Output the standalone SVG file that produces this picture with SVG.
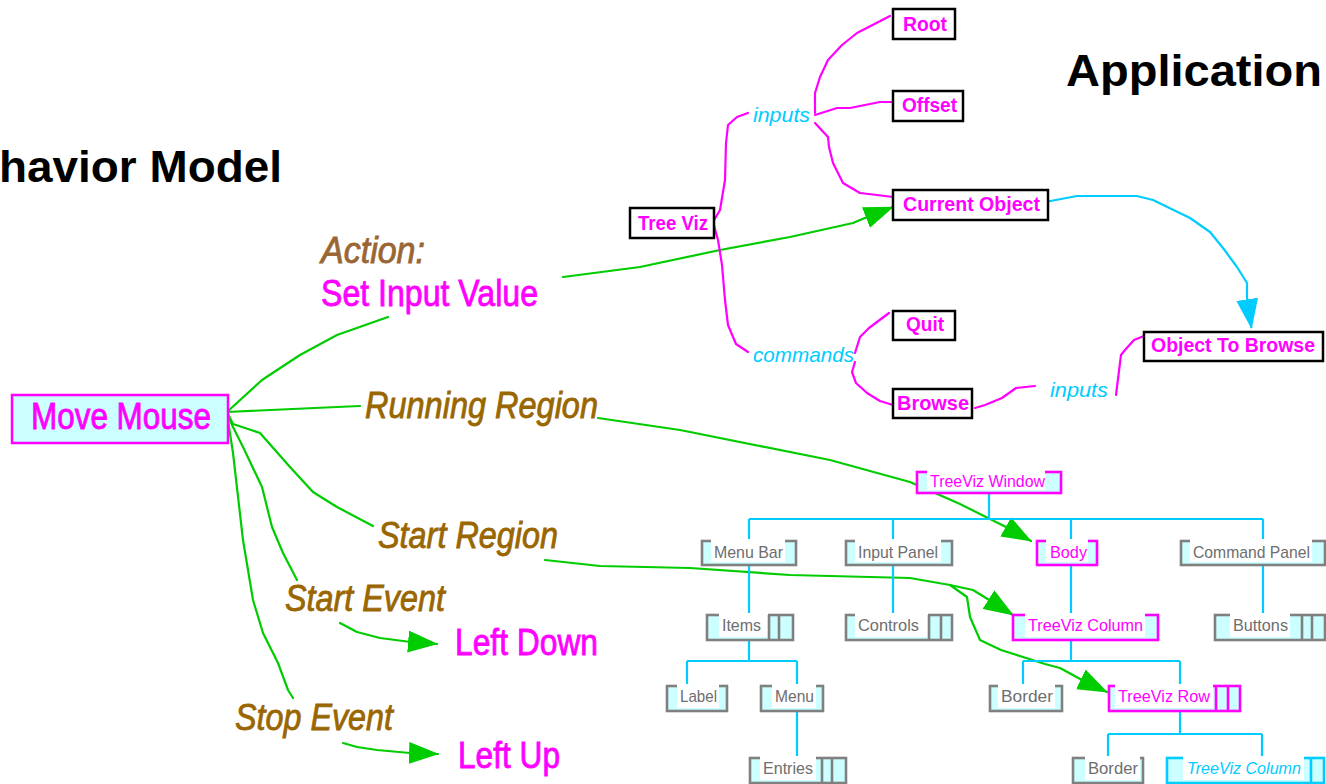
<svg xmlns="http://www.w3.org/2000/svg" width="1326" height="784" viewBox="0 0 1326 784">
<defs>
<style>
text{font-family:"Liberation Sans",Arial,Helvetica,sans-serif}
.title{font-size:45px;font-weight:bold;fill:#000}
.big{font-size:36px;stroke-width:0.8px}
.it{font-style:italic}
.brown{fill:#996600;stroke:#996600}
.brown2{fill:#996633;stroke:#996633}
.mag{fill:#ff00ff}
.big.mag{stroke:#ff00ff}
.bx{fill:#fff;stroke:#000;stroke-width:2.5}
.bxt{font-size:21px;font-weight:bold;fill:#ff00ff}
.kw{font-size:21px;font-style:italic;fill:#00ccff}
.gr{fill:none;stroke:#00cc00;stroke-width:2.2;stroke-linejoin:round;stroke-linecap:round}
.mg{fill:none;stroke:#ff00ff;stroke-width:2.2;stroke-linejoin:round;stroke-linecap:round}
.cy{fill:none;stroke:#00ccff;stroke-width:2.2;stroke-linejoin:round}
.tn{fill:#ccffff;stroke-width:2.6}
.gs{stroke:#808080}
.ms{stroke:#ff00ff}
.cs{stroke:#00ccff}
.lb{fill:#fff}
.tt{font-size:17px}
.gt{fill:#6e6e6e}
.ct{fill:#00ccff}
.dv{stroke-width:2.6}
</style>
<marker id="gHead" markerUnits="userSpaceOnUse" markerWidth="30" markerHeight="22" refX="29" refY="11" orient="auto" viewBox="0 0 30 22">
<path d="M0,0 L30,11 L0,22 z" fill="#00cc00"/>
</marker>
<marker id="cHead" markerUnits="userSpaceOnUse" markerWidth="30" markerHeight="22" refX="29" refY="11" orient="auto" viewBox="0 0 30 22">
<path d="M0,0 L30,11 L0,22 z" fill="#00ccff"/>
</marker>
</defs>
<rect width="1326" height="784" fill="#fff"/>

<!-- headings -->
<text class="title" x="-1" y="182" textLength="283" lengthAdjust="spacingAndGlyphs">havior Model</text>
<text class="title" x="1066" y="86" textLength="256" lengthAdjust="spacingAndGlyphs">Application</text>

<!-- connectors -->
<g id="connectors">
  <!-- behaviour model links (green) -->
  <polyline class="gr" points="227,412 262,380 300,355 337,335 388,317"/>
  <polyline class="gr" points="563,277 640,267 720,250 790,237 853,223 866,217.5 893,207" marker-end="url(#gHead)"/>
  <polyline class="gr" points="227,412 337,407 360,406"/>
  <polyline class="gr" points="598,418 680,430 830,460 910,482 960,504 1006,527 1031,541" marker-end="url(#gHead)"/>
  <polyline class="gr" points="227,412 233,424 260,433 290,467 313,492 337,507 373,526"/>
  <polyline class="gr" points="545,560 600,566 690,568 790,575 910,578 950,585 973,590 990,600.5 1013,615" marker-end="url(#gHead)"/>
  <polyline class="gr" points="950,585 967,597 970,617 980,640 1001,650 1023,657 1045,664 1060,668 1082,680 1107,692" marker-end="url(#gHead)"/>
  <polyline class="gr" points="227,414 233,427 243,447 262,487 272,527 283,553 297,580"/>
  <polyline class="gr" points="227,414 233,453 243,540 253,600 263,633 278,663 288,690 293,698"/>
  <polyline class="gr" points="340,623 357,632 380,638 407,641.5 437,644" marker-end="url(#gHead)"/>
  <polyline class="gr" points="343,743 357,747 377,750 410,753 438,754" marker-end="url(#gHead)"/>

  <!-- application object links (magenta) -->
  <polyline class="mg" points="713,222 720,210 725,180 726,143 728,125 737,117 748,113"/>
  <polyline class="mg" points="815,113 815,93 820,77 828,60 842,45 857,33 890,16"/>
  <polyline class="mg" points="815,115 837,108 850,108 860,106 880,102 893,102"/>
  <polyline class="mg" points="815,123 828,137 829,147 833,163 843,183 860,193 877,195 893,197"/>
  <polyline class="mg" points="713,222 718,240 722,265 725,300 728,325 736,344 748,352"/>
  <polyline class="mg" points="855,353 860,337 869,328 889,313"/>
  <polyline class="mg" points="855,362 852,372 856,383 867,393 880,401 893,405"/>
  <polyline class="mg" points="975,408 985,405 1002,398 1016,388 1035,386"/>
  <polyline class="mg" points="1116,395 1121,355 1125,350 1134,340 1144,336"/>
  <polyline class="cy" points="1045,202 1077,196 1137,196 1153,200 1190,218 1210,232 1223,248 1237,267 1247,283 1247,298 1251.5,328" marker-end="url(#cHead)"/>

  <!-- widget hierarchy (cyan) -->
  <path class="cy" d="M989,493 V519 M749,519 H1263 M749,519 V541 M893,519 V541 M1071,519 V541 M1263,519 V541
    M749,565 V615 M893,565 V615 M1071,565 V615 M1263,565 V615
    M749,640 V661 M687,661 H797 M687,661 V686 M797,661 V686
    M1071,640 V661 M1023,661 H1180 M1023,661 V686 M1180,661 V686
    M797,711 V758
    M1180,711 V734 M1108,734 H1262 M1108,734 V758 M1262,734 V758"/>
</g>

<!-- behaviour model -->
<g id="move-mouse">
  <rect x="12" y="395" width="216" height="48" fill="#ccffff" stroke="#ff00ff" stroke-width="2.5"/>
  <text class="big mag" x="31" y="429" textLength="180" lengthAdjust="spacingAndGlyphs">Move Mouse</text>
</g>
<g id="action">
  <text class="big it brown2" x="321" y="263" textLength="104" lengthAdjust="spacingAndGlyphs">Action:</text>
  <text class="big mag" x="321" y="306" textLength="217" lengthAdjust="spacingAndGlyphs">Set Input Value</text>
</g>
<g id="running-region"><text class="big it brown" x="365" y="418" textLength="233" lengthAdjust="spacingAndGlyphs">Running Region</text></g>
<g id="start-region"><text class="big it brown" x="378" y="548" textLength="180" lengthAdjust="spacingAndGlyphs">Start Region</text></g>
<g id="start-event"><text class="big it brown" x="285" y="611" textLength="160" lengthAdjust="spacingAndGlyphs">Start Event</text></g>
<g id="left-down"><text class="big mag" x="455" y="655" textLength="143" lengthAdjust="spacingAndGlyphs">Left Down</text></g>
<g id="stop-event"><text class="big it brown" x="235" y="730" textLength="158" lengthAdjust="spacingAndGlyphs">Stop Event</text></g>
<g id="left-up"><text class="big mag" x="458" y="768" textLength="102" lengthAdjust="spacingAndGlyphs">Left Up</text></g>

<!-- application objects -->
<g id="tree-viz"><rect class="bx" x="630" y="208" width="84" height="30"/><text class="bxt" x="638" y="230" textLength="70" lengthAdjust="spacingAndGlyphs">Tree Viz</text></g>
<g id="inputs-1"><text class="kw" x="753" y="122" textLength="57" lengthAdjust="spacingAndGlyphs">inputs</text></g>
<g id="root"><rect class="bx" x="893" y="9" width="62" height="30"/><text class="bxt" x="903" y="31" textLength="44" lengthAdjust="spacingAndGlyphs">Root</text></g>
<g id="offset"><rect class="bx" x="893" y="91" width="70" height="30"/><text class="bxt" x="902" y="112" textLength="55" lengthAdjust="spacingAndGlyphs">Offset</text></g>
<g id="current-object"><rect class="bx" x="893" y="190" width="155" height="30"/><text class="bxt" x="903" y="211" textLength="137" lengthAdjust="spacingAndGlyphs">Current Object</text></g>
<g id="commands"><text class="kw" x="753" y="362" textLength="101" lengthAdjust="spacingAndGlyphs">commands</text></g>
<g id="quit"><rect class="bx" x="893" y="311" width="62" height="29"/><text class="bxt" x="906" y="331" textLength="38" lengthAdjust="spacingAndGlyphs">Quit</text></g>
<g id="browse"><rect class="bx" x="893" y="389" width="79" height="29"/><text class="bxt" x="897" y="410" textLength="72" lengthAdjust="spacingAndGlyphs">Browse</text></g>
<g id="inputs-2"><text class="kw" x="1050" y="397" textLength="58" lengthAdjust="spacingAndGlyphs">inputs</text></g>
<g id="object-to-browse"><rect class="bx" x="1144" y="332" width="179" height="29"/><text class="bxt" x="1151" y="352" textLength="164" lengthAdjust="spacingAndGlyphs">Object To Browse</text></g>

<!-- widget hierarchy -->
<g id="treeviz-window">
  <rect class="tn ms" x="917" y="472" width="144" height="21"/>
  <rect class="lb" x="927" y="470" width="118" height="20"/>
  <text class="mag" font-size="16" x="930" y="487" textLength="115" lengthAdjust="spacingAndGlyphs">TreeViz Window</text>
</g>
<g id="menu-bar">
  <rect class="tn gs" x="702" y="541" width="94" height="24"/>
  <rect class="lb" x="711" y="539" width="74" height="23"/>
  <text class="tt gt" x="714" y="558" textLength="69" lengthAdjust="spacingAndGlyphs">Menu Bar</text>
</g>
<g id="input-panel">
  <rect class="tn gs" x="846" y="541" width="106" height="24"/>
  <rect class="lb" x="855" y="539" width="86" height="23"/>
  <text class="tt gt" x="858" y="558" textLength="80" lengthAdjust="spacingAndGlyphs">Input Panel</text>
</g>
<g id="body">
  <rect class="tn ms" x="1037" y="541" width="60" height="24"/>
  <rect class="lb" x="1046" y="539" width="42" height="23"/>
  <text class="tt mag" x="1050" y="558" textLength="37" lengthAdjust="spacingAndGlyphs">Body</text>
</g>
<g id="command-panel">
  <rect class="tn gs" x="1181" y="541" width="144" height="24"/>
  <rect class="lb" x="1190" y="539" width="122" height="23"/>
  <text class="tt gt" x="1193" y="558" textLength="117" lengthAdjust="spacingAndGlyphs">Command Panel</text>
</g>
<g id="items">
  <rect class="tn gs" x="707" y="615" width="86" height="25"/>
  <rect class="lb" x="719" y="613" width="49" height="24"/>
  <path class="gs dv" d="M769,615 V640 M779,615 V640"/>
  <text class="tt gt" x="722" y="631" textLength="39" lengthAdjust="spacingAndGlyphs">Items</text>
</g>
<g id="controls">
  <rect class="tn gs" x="846" y="615" width="106" height="25"/>
  <rect class="lb" x="855" y="613" width="73" height="24"/>
  <path class="gs dv" d="M929,615 V640 M941,615 V640"/>
  <text class="tt gt" x="858" y="631" textLength="61" lengthAdjust="spacingAndGlyphs">Controls</text>
</g>
<g id="treeviz-column">
  <rect class="tn ms" x="1013" y="615" width="145" height="25"/>
  <rect class="lb" x="1025" y="613" width="120" height="24"/>
  <text class="tt mag" x="1028" y="631" textLength="115" lengthAdjust="spacingAndGlyphs">TreeViz Column</text>
</g>
<g id="buttons">
  <rect class="tn gs" x="1215" y="615" width="110" height="25"/>
  <rect class="lb" x="1230" y="613" width="60" height="24"/>
  <path class="gs dv" d="M1302,615 V640 M1312,615 V640"/>
  <text class="tt gt" x="1233" y="631" textLength="55" lengthAdjust="spacingAndGlyphs">Buttons</text>
</g>
<g id="label">
  <rect class="tn gs" x="667" y="686" width="60" height="25"/>
  <rect class="lb" x="677" y="684" width="42" height="24"/>
  <text class="tt gt" x="680" y="702" textLength="37" lengthAdjust="spacingAndGlyphs">Label</text>
</g>
<g id="menu">
  <rect class="tn gs" x="761" y="686" width="62" height="25"/>
  <rect class="lb" x="772" y="684" width="44" height="24"/>
  <text class="tt gt" x="775" y="702" textLength="39" lengthAdjust="spacingAndGlyphs">Menu</text>
</g>
<g id="border-1">
  <rect class="tn gs" x="990" y="686" width="72" height="25"/>
  <rect class="lb" x="998" y="684" width="57" height="24"/>
  <text class="tt gt" x="1001" y="702" textLength="52" lengthAdjust="spacingAndGlyphs">Border</text>
</g>
<g id="treeviz-row">
  <rect class="tn ms" x="1109" y="686" width="131" height="25"/>
  <rect class="lb" x="1115" y="684" width="98" height="24"/>
  <path class="ms dv" d="M1216,686 V711 M1228,686 V711"/>
  <text class="tt mag" x="1118" y="702" textLength="92" lengthAdjust="spacingAndGlyphs">TreeViz Row</text>
</g>
<g id="entries">
  <rect class="tn gs" x="750" y="758" width="96" height="25"/>
  <rect class="lb" x="760" y="756" width="56" height="24"/>
  <path class="gs dv" d="M822,758 V783 M832,758 V783"/>
  <text class="tt gt" x="763" y="774" textLength="50" lengthAdjust="spacingAndGlyphs">Entries</text>
</g>
<g id="border-2">
  <rect class="tn gs" x="1073" y="758" width="70" height="25"/>
  <rect class="lb" x="1085" y="756" width="55" height="24"/>
  <text class="tt gt" x="1088" y="774" textLength="50" lengthAdjust="spacingAndGlyphs">Border</text>
</g>
<g id="treeviz-column-nested">
  <rect class="tn cs" x="1167" y="758" width="157" height="25"/>
  <rect class="lb" x="1183" y="756" width="121" height="24"/>
  <path class="cs dv" d="M1311,758 V783"/>
  <text class="tt it ct" x="1187" y="774" textLength="114" lengthAdjust="spacingAndGlyphs">TreeViz Column</text>
</g>
</svg>
